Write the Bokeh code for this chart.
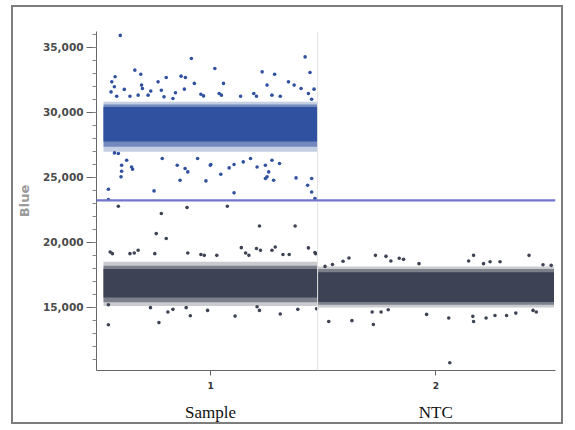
from bokeh.plotting import figure
from bokeh.models import (Range1d, FixedTicker, SingleIntervalTicker, NumeralTickFormatter,
                          LinearAxis, Span, ColumnDataSource)
from bokeh.embed import file_html
from bokeh.resources import INLINE

# ---------------- data ----------------
well_ids = ["1", "2"]
well_names = ["Sample", "NTC"]
well_event_counts = [14400, 15900]
threshold = 23230

# droplet clusters drawn as dense bands (amplitude ranges)
cluster_names = ["Sample positive", "Sample negative", "NTC negative"]
cluster_well = [0, 0, 1]
cluster_core_low = [27750, 15750, 15420]
cluster_core_high = [30400, 17950, 17700]
cluster_mid_low = [27350, 15400, 15200]
cluster_mid_high = [30600, 18200, 17950]
cluster_outer_low = [26950, 15100, 15000]
cluster_outer_high = [30800, 18500, 18150]
cluster_colors = ["#2f519f", "#3d4354", "#3d4354"]

# scattered droplets outside the dense bands (event number, amplitude)
sample_events = [
    1130, 5910, 2110, 2510, 780, 560, 4220, 5220, 5510, 3670, 6110, 2560, 2620, 730, 1400, 510,
    3890, 1780, 2330, 3000, 3180, 4840, 5440, 6550, 6730, 890, 4670, 4070,
    13560, 7490, 10670, 11510, 8070, 11000, 12440, 12820, 13290, 13890, 14160, 13780, 7780, 7930,
    9220, 10110, 10290, 11330, 11890, 14000,
    740, 1000, 1560, 1220, 1890, 1960, 1220, 1180, 3950, 4960, 5490, 5670, 5150, 6330, 7180, 6890,
    330, 3400, 330, 7220, 7890, 8450, 8780, 9400, 9890, 10330, 10890, 11110, 11000, 10890, 11440,
    11330, 11840, 12950, 8780, 14000, 13730, 14000, 14220,
    1000, 3890, 5620, 8330, 3550, 4220, 10490, 12890,
    450, 600, 2330, 1780, 2070, 3450, 5670, 6550, 6780, 7620, 9270, 9560, 9780, 10290, 10560,
    11550, 11330, 12490, 12070, 13780, 14220, 14270,
    330, 3730, 3160, 4330, 4670, 5840, 5560, 7000, 8850, 10330, 10490, 11890, 13070, 14330, 330,
]
sample_amplitudes = [
    35900, 34130, 33230, 32920, 32720, 32330, 32670, 32770, 32670, 32330, 32210, 32080, 31820, 31950, 31750, 31560,
    31690, 31230, 31310, 31310, 31620, 31490, 31770, 31380, 31250, 31230, 31050, 31180,
    34250, 33360, 33100, 32920, 32210, 32080, 32330, 32080, 31820, 33050, 31770, 31440, 31440, 31310,
    31230, 31440, 31230, 31310, 31230, 31000,
    26870, 26820, 26310, 25920, 25790, 25620, 25460, 25030, 26440, 25920, 25670, 25410, 24770, 26440, 25920, 24720,
    24080, 23950, 23290, 25980, 25230, 25720, 25980, 26180, 26440, 25790, 25920, 25410, 25030, 24900, 24770,
    26310, 26060, 24950, 23800, 24900, 24390, 23870, 23360,
    22770, 22210, 22670, 22770, 20670, 20290, 21250, 21250,
    19260, 19130, 19390, 19130, 19180, 19130, 19180, 19060, 19000, 19000, 19590, 19180, 19000, 19520, 19390,
    19640, 19390, 19060, 19060, 19570, 19210, 19130,
    13670, 13830, 14980, 14640, 14850, 14360, 14980, 14770, 14330, 15050, 14770, 14490, 14850, 14900, 15200,
]
ntc_events = [
    16510, 16110, 18290, 19000, 19330, 19890, 20180, 21220, 24890, 24560, 25560, 26000, 26670, 28620,
    29560, 30110, 15400, 14900,
    15150, 16710, 18150, 18070, 18670, 19150, 21730, 23220, 24890, 24840, 25730, 26330, 27110, 27730,
    29110, 28890, 23290,
]
ntc_amplitudes = [
    18790, 18540, 19000, 18920, 18560, 18770, 18690, 18360, 19000, 18560, 18360, 18510, 18510, 19000,
    18280, 18230, 18300, 18150,
    13920, 13980, 13690, 14640, 14640, 14820, 14460, 14180, 13920, 14310, 14180, 14380, 14380, 14560,
    14640, 14770, 10750,
]

POS_COLOR = "#2f519f"
NEG_COLOR = "#3d4354"

# ---------------- derived ----------------
well_starts = [sum(well_event_counts[:i]) for i in range(len(well_event_counts))]
well_ends = [s + c for s, c in zip(well_starts, well_event_counts)]
well_centers = [int((s + e) / 2) for s, e in zip(well_starts, well_ends)]

p = figure(width=552, height=419, output_backend="svg", toolbar_location=None,
           x_range=Range1d(-470, 30400), y_range=Range1d(10150, 36200),
           min_border_left=80, min_border_right=10, min_border_top=24, min_border_bottom=56)
p.styles = {"margin-left": "11px", "margin-top": "5px",
            "border": "2px solid #7d7d7d"}
p.grid.visible = False
p.outline_line_color = None
p.background_fill_color = "white"
p.border_fill_color = "white"

# bands, three density levels
lefts = [well_starts[w] for w in cluster_well]
rights = [well_ends[w] for w in cluster_well]
for lo, hi, alpha in [(cluster_outer_low, cluster_outer_high, 0.28),
                      (cluster_mid_low, cluster_mid_high, 0.55),
                      (cluster_core_low, cluster_core_high, 1.0)]:
    src = ColumnDataSource(dict(left=lefts, right=rights, bottom=lo, top=hi, color=cluster_colors))
    p.quad(left="left", right="right", bottom="bottom", top="top", source=src,
           fill_color="color", fill_alpha=alpha, line_color=None)

# scattered droplets, coloured by threshold
ev = sample_events + ntc_events
amp = sample_amplitudes + ntc_amplitudes
cols = [POS_COLOR if a >= threshold else NEG_COLOR for a in amp]
p.scatter(x=ev, y=amp, marker="circle", size=3.6, fill_color=cols, line_color=None)

# well separator and threshold
for b in well_ends[:-1]:
    p.add_layout(Span(location=b, dimension="height", line_color="#e2e2e2", line_width=1))
p.add_layout(Span(location=threshold, dimension="width", line_color="#6f76cc", line_width=2.2))

# y axis
ya = p.yaxis[0]
ya.ticker = SingleIntervalTicker(interval=5000, num_minor_ticks=5)
ya.formatter = NumeralTickFormatter(format="0,0")
ya.axis_label = "Blue"
ya.axis_label_text_font = "DejaVu Sans"
ya.axis_label_text_font_style = "bold"
ya.axis_label_text_font_size = "13px"
ya.axis_label_text_color = "#9a9a9a"
ya.axis_label_standoff = 8
ya.major_label_text_font = "DejaVu Sans"
ya.major_label_text_font_style = "bold"
ya.major_label_text_font_size = "10.5px"
ya.major_label_text_color = "#4a4a4a"
ya.major_label_standoff = 3
ya.axis_line_color = "#666666"
ya.major_tick_line_color = "#666666"
ya.minor_tick_line_color = "#888888"
ya.major_tick_out = 10
ya.major_tick_in = 0
ya.minor_tick_out = 4
ya.minor_tick_in = 0

# x axis: well numbers
xa = p.xaxis[0]
xa.ticker = FixedTicker(ticks=well_centers, minor_ticks=[])
xa.major_label_overrides = {c: w for c, w in zip(well_centers, well_ids)}
xa.major_label_text_font = "DejaVu Sans"
xa.major_label_text_font_style = "bold"
xa.major_label_text_font_size = "9px"
xa.major_label_text_color = "#333333"
xa.major_label_standoff = 6
xa.axis_line_color = "#666666"
xa.major_tick_line_color = "#666666"
xa.major_tick_out = 5
xa.major_tick_in = 0
xa.minor_tick_line_color = None

# second x axis: sample names
xb = LinearAxis(ticker=FixedTicker(ticks=well_centers, minor_ticks=[]))
xb.major_label_overrides = {c: n for c, n in zip(well_centers, well_names)}
xb.major_label_text_font = "Liberation Serif"
xb.major_label_text_font_size = "17px"
xb.major_label_text_color = "#111111"
xb.major_label_standoff = 5
xb.axis_line_color = None
xb.major_tick_line_color = None
xb.minor_tick_line_color = None
p.add_layout(xb, "below")

open("out.html", "w").write(file_html(p, INLINE))
